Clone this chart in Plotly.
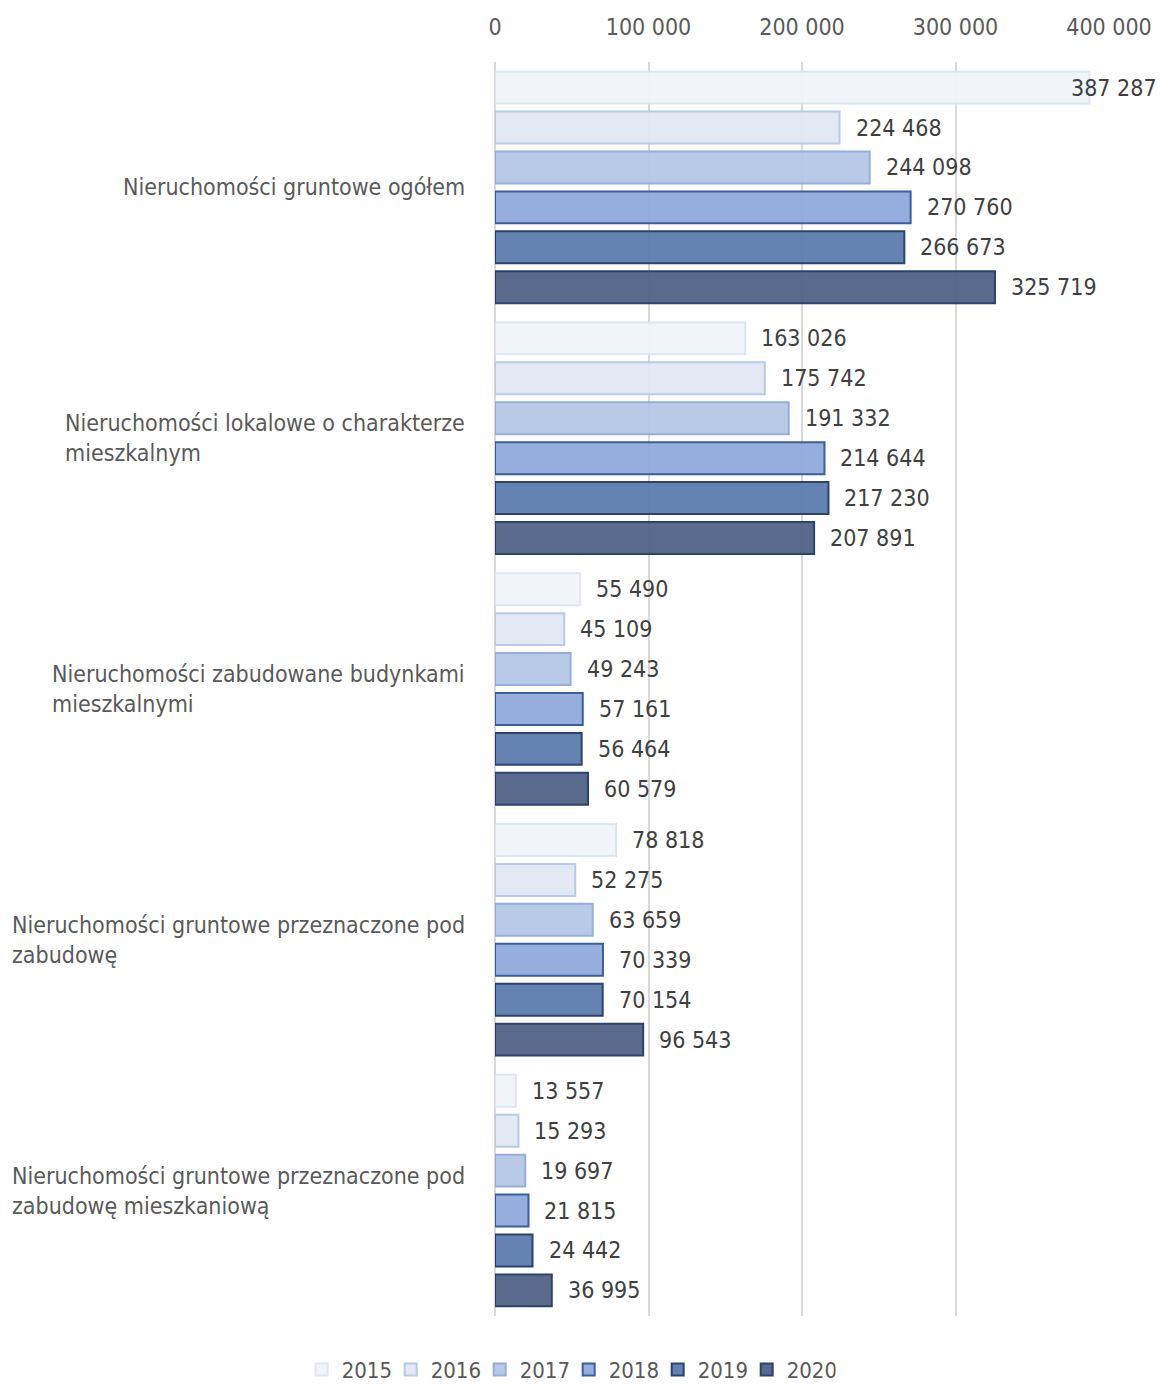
import plotly.graph_objects as go

categories = [
    "Nieruchomości gruntowe ogółem",
    "Nieruchomości lokalowe o charakterze<br>mieszkalnym",
    "Nieruchomości zabudowane budynkami<br>mieszkalnymi",
    "Nieruchomości gruntowe przeznaczone pod<br>zabudowę",
    "Nieruchomości gruntowe przeznaczone pod<br>zabudowę mieszkaniową",
]
years = ["2015", "2016", "2017", "2018", "2019", "2020"]
v2015 = [387287, 163026, 55490, 78818, 13557]
v2016 = [224468, 175742, 45109, 52275, 15293]
v2017 = [244098, 191332, 49243, 63659, 19697]
v2018 = [270760, 214644, 57161, 70339, 21815]
v2019 = [266673, 217230, 56464, 70154, 24442]
v2020 = [325719, 207891, 60579, 96543, 36995]
series = [v2015, v2016, v2017, v2018, v2019, v2020]
tick_vals = [0, 100000, 200000, 300000, 400000]
x_max = 400000

fills = ["#F1F5FB", "#E1E8F4", "#B4C7E7", "#8FAADC", "#5B7BAE", "#4F6185"]
borders = ["#DCE5F4", "#B4C7E7", "#8EAADB", "#2F5597", "#1F3864", "#203864"]

FONT = "Liberation Sans Narrow, DejaVu Sans Condensed, Roboto, sans-serif"
cat_ids = list(range(len(categories)))

def fmt(v):
    return f"{v:,}".replace(",", " ")

BARGAP = 0.045
fig = go.Figure()
for yr, vals, fc, bc in zip(years, series, fills, borders):
    fig.add_trace(go.Bar(
        name=yr, y=cat_ids, x=vals, orientation="h",
        marker=dict(color=fc, line=dict(color=bc, width=2)),
        opacity=0.94,
    ))

# value labels (placed through the data scale)
slot = (1 - BARGAP) / len(series)
for k, vals in enumerate(series):
    off = -(1 - BARGAP) / 2 + (k + 0.5) * slot
    for i, v in enumerate(vals):
        if v / x_max > 0.9:
            fig.add_annotation(x=1, xref="paper", y=i + off, yref="y", text=fmt(v),
                               showarrow=False, xanchor="right", xshift=50,
                               font=dict(family=FONT, size=23, color="#404040"))
        else:
            fig.add_annotation(x=v, xref="x", y=i + off, yref="y", text=fmt(v),
                               showarrow=False, xanchor="left", xshift=14,
                               font=dict(family=FONT, size=23, color="#404040"))

for i, c in enumerate(categories):
    fig.add_annotation(
        x=0, y=i, xref="paper", yref="y", text=c, showarrow=False,
        xanchor="right", align="left", xshift=-28,
        font=dict(family=FONT, size=23, color="#595959"),
    )

fig.update_layout(
    width=1160, height=1384,
    margin=dict(l=495, r=51, t=62, b=68, autoexpand=False),
    paper_bgcolor="white", plot_bgcolor="white",
    barmode="group", bargap=BARGAP, bargroupgap=0.2,
    font=dict(family=FONT, size=23, color="#595959"),
    legend=dict(orientation="h", x=0.12, xanchor="center",
                y=-0.026, yanchor="top",
                font=dict(family=FONT, size=22, color="#595959"),
                traceorder="normal", itemwidth=30,
                entrywidth=44, entrywidthmode="pixels"),
    showlegend=True,
)
fig.update_xaxes(
    range=[0, x_max], side="top", tickvals=tick_vals,
    ticktext=[fmt(v) for v in tick_vals],
    showgrid=True, gridcolor="#D9D9D9", gridwidth=2,
    zeroline=True, zerolinecolor="#D9D9D9", zerolinewidth=2,
    tickfont=dict(family=FONT, size=23, color="#595959"),
    ticks="", showline=False, ticklabelstandoff=21,
)
fig.update_yaxes(
    tickvals=cat_ids, showticklabels=False, autorange="reversed",
    showgrid=False, zeroline=False,
)

fig.write_html("out.html")
